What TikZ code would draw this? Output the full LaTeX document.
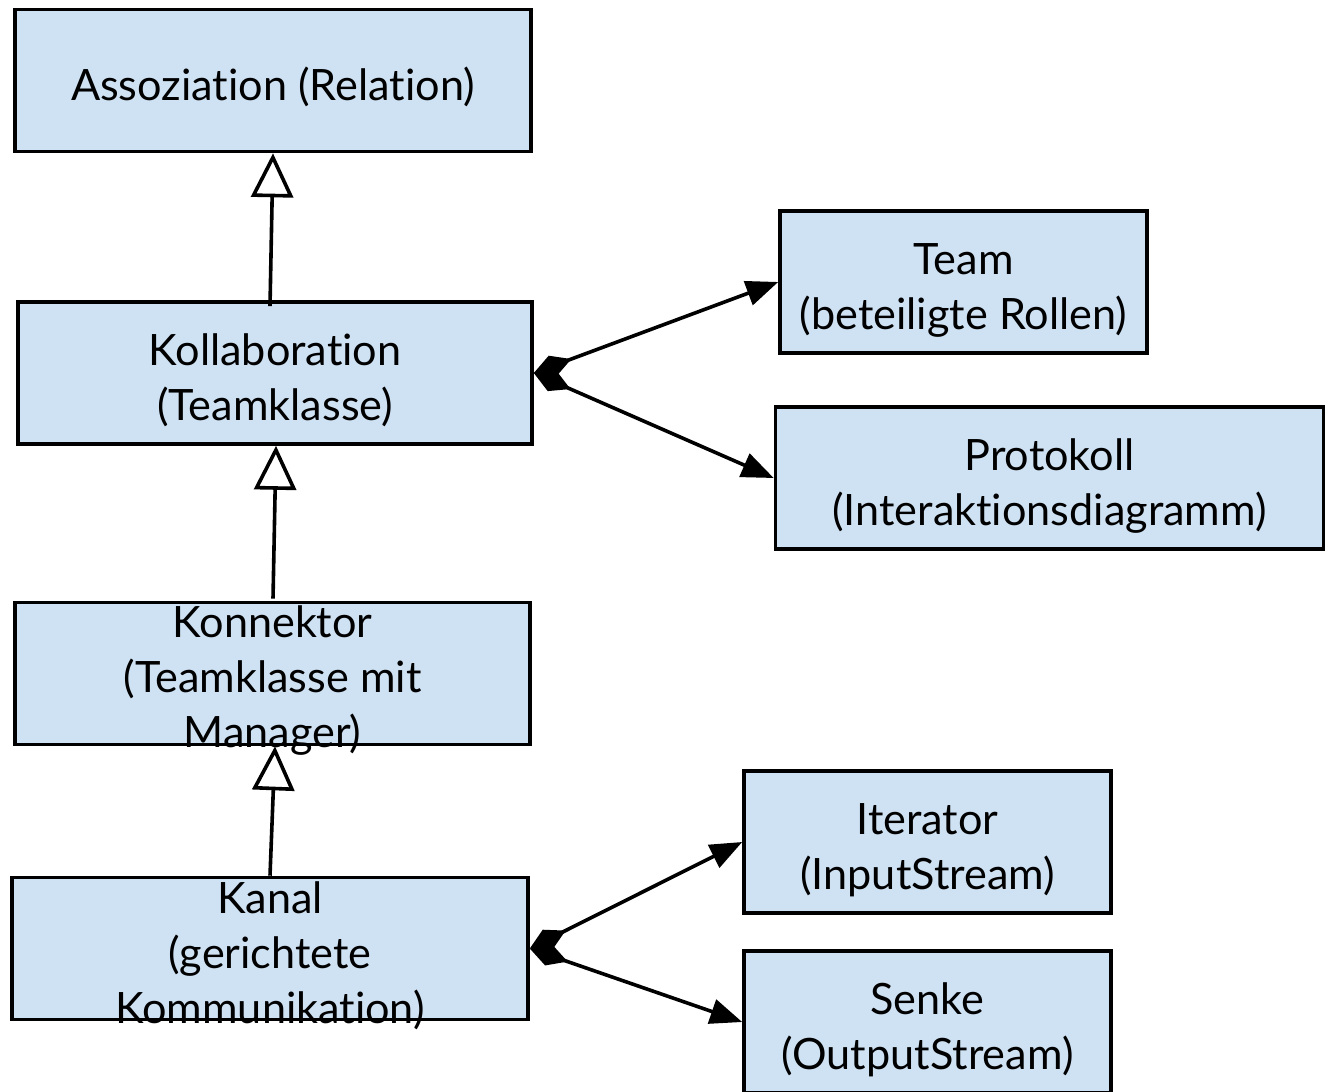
\documentclass[tikz,border=0pt]{standalone}
\usepackage{fontspec}
\setmainfont{Lato}[Ligatures={NoCommon}]
\usetikzlibrary{arrows.meta,calc}
\definecolor{boxblue}{HTML}{CFE2F3}
\tikzset{
  box/.style={draw=black, fill=boxblue, line width=1.8pt, rectangle, inner sep=0pt, minimum height=71pt},
  txt/.style={align=center, inner sep=0pt, font=\fontsize{21.6}{27.5}\selectfont},
  gen/.style={line width=1.8pt, -{Triangle[open,length=22pt,width=21pt,fill=white]}},
  comp/.style={line width=1.8pt, {Diamond[length=20pt,width=11pt]}-{Triangle[length=16pt,width=12.5pt]}}
}
\begin{document}
\begin{tikzpicture}[x=0.5pt,y=-0.5pt]
\useasboundingbox (0,0) rectangle (1326,1091);
% boxes
\node[box, minimum width=258pt] (asz) at (273,80.5) {};
\node[box, minimum width=257pt] (kol) at (275,373) {};
\node[box, minimum width=257.5pt] (kon) at (272.5,673.5) {};
\node[box, minimum width=258pt] (kan) at (270,948.5) {};
\node[box, minimum width=183.5pt] (team) at (963.5,282) {};
\node[box, minimum width=274pt] (prot) at (1049.5,478) {};
\node[box, minimum width=183.5pt] (iter) at (927.5,842) {};
\node[box, minimum width=183.5pt] (senke) at (927.5,1022) {};
% texts
\node[txt] (asz-t) at ($(asz)+(0,6)$) {Assoziation (Relation)};
\node[txt] (kol-t) at ($(kol)+(0,7)$) {Kollaboration\\(Teamklasse)};
\node[txt] (kon-t) at ($(kon)+(0,7)$) {Konnektor\\(Teamklasse mit\\Manager)};
\node[txt] (kan-t) at ($(kan)+(0,7)$) {Kanal\\(gerichtete\\Kommunikation)};
\node[txt] (team-t) at ($(team)+(0,8)$) {Team\\(beteiligte Rollen)};
\node[txt] (prot-t) at ($(prot)+(0,8)$) {Protokoll\\(Interaktionsdiagramm)};
\node[txt] (iter-t) at ($(iter)+(0,8)$) {Iterator\\(InputStream)};
\node[txt] (senke-t) at ($(senke)+(0,8)$) {Senke\\(OutputStream)};
% generalizations
\draw[gen] ($(kol.north)+(-5,6)$) -- (asz.south);
\draw[gen] ($(kon.north)+(0.5,-2)$) -- ($(kol.south)+(1,0)$);
\draw[gen] (kan.north) -- ($(kon.south)+(2.5,0)$);
% compositions
\draw[comp] (kol.east) -- (team.west);
\draw[comp] (kol.east) -- (prot.west);
\draw[comp] (kan.east) -- (iter.west);
\draw[comp] (kan.east) -- (senke.west);
\end{tikzpicture}
\end{document}
